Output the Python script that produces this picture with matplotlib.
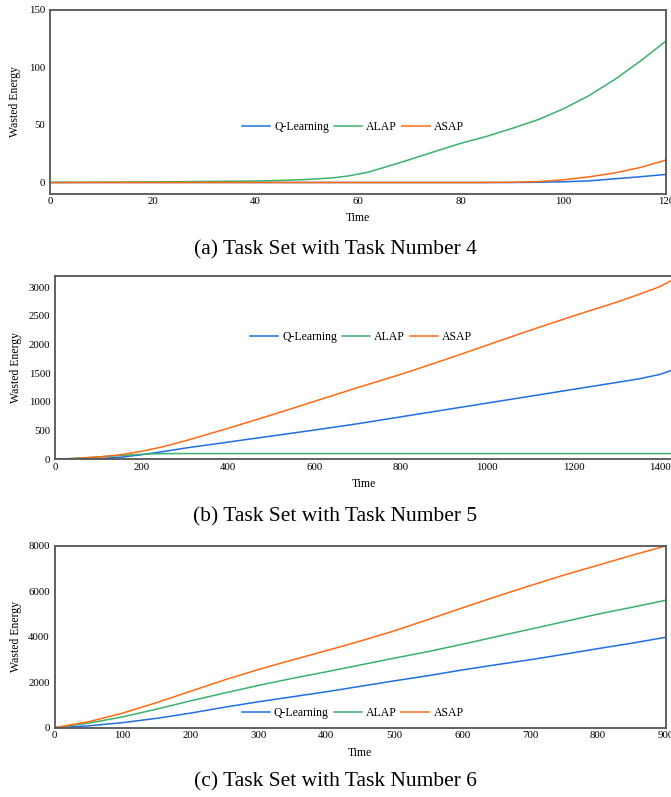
import numpy as np
import matplotlib
matplotlib.use("Agg")
import matplotlib.pyplot as plt

plt.rcParams['font.family'] = ['Liberation Serif', 'DejaVu Serif']

labels = ['Q-Learning', 'ALAP', 'ASAP']
colors = ['#1f6fe0', '#3ab26c', '#ff6a13']

# (a) task number 4
t4 = [0, 10, 20, 30, 40, 45, 50, 55, 58, 62, 66, 70, 75, 80, 85, 90, 95, 100, 105, 110, 115, 120]
q4 = [0, 0, 0, 0, 0, 0, 0, 0, 0, 0, 0, 0, 0, 0, 0, 0, 0.2, 0.6, 1.4, 3.2, 5.0, 7.0]
alap4 = [0, 0.2, 0.5, 0.9, 1.3, 1.8, 2.6, 4.0, 5.6, 9.0, 14.3, 19.8, 27.0, 34.0, 40.0, 47.0,
         54.5, 64.0, 75.5, 89.5, 105.5, 123.0]
asap4 = [0, 0, 0, 0, 0, 0, 0, 0, 0, 0, 0, 0, 0, 0, 0, 0.2, 0.8, 2.3, 4.9, 8.3, 13.0, 19.5]

# (b) task number 5
t5 = [0, 50, 100, 150, 200, 250, 300, 400, 500, 600, 700, 800, 900, 1000, 1100, 1200,
      1300, 1350, 1400, 1430]
q5 = [0, 3, 12, 35, 80, 135, 195, 300, 405, 510, 620, 740, 860, 980, 1100, 1220,
      1340, 1400, 1480, 1560]
alap5 = [0, 20, 42, 65, 88, 99, 100, 100, 100, 100, 100, 100, 100, 100, 100, 100,
         100, 100, 100, 100]
asap5 = [0, 15, 40, 78, 140, 220, 320, 540, 770, 1010, 1250, 1480, 1730, 1990, 2250,
         2500, 2740, 2870, 3010, 3130]

# (c) task number 6
t6 = [0, 50, 100, 150, 200, 250, 300, 350, 400, 450, 500, 550, 600, 650, 700, 750,
      800, 850, 900]
q6 = [0, 80, 220, 410, 640, 900, 1140, 1360, 1580, 1820, 2060, 2290, 2540, 2770,
      2990, 3230, 3480, 3720, 3980]
alap6 = [0, 200, 475, 815, 1180, 1525, 1860, 2170, 2460, 2760, 3060, 3350, 3670,
         4005, 4335, 4665, 5000, 5300, 5610]
asap6 = [0, 260, 640, 1100, 1600, 2100, 2560, 2980, 3390, 3810, 4260, 4760, 5270,
         5770, 6250, 6720, 7150, 7590, 8000]

panels = [
    dict(t=t4, ys=[q4, alap4, asap4], rect=[0.0745, 0.7566, 0.918, 0.2309],
         xlim=(0, 120), ylim=(-10, 150), xt=np.arange(0, 121, 20), yt=[0, 50, 100, 150],
         leg=(0.492, 0.364), ylx=-0.047, xly=-0.098,
         cap='(a) Task Set with Task Number 4', capy=0.6863),
    dict(t=t5, ys=[q5, alap5, asap5], rect=[0.0824, 0.4237, 0.9206, 0.2304],
         xlim=(0, 1430), ylim=(0, 3200), xt=np.arange(0, 1401, 200),
         yt=np.arange(0, 3001, 500),
         leg=(0.495, 0.667), ylx=-0.054, xly=-0.103,
         cap='(b) Task Set with Task Number 5', capy=0.3513),
    dict(t=t6, ys=[q6, alap6, asap6], rect=[0.0815, 0.0870, 0.911, 0.228],
         xlim=(0, 900), ylim=(0, 8000), xt=np.arange(0, 901, 100),
         yt=np.arange(0, 8001, 2000),
         leg=(0.4875, 0.082), ylx=-0.0535, xly=-0.105,
         cap='(c) Task Set with Task Number 6', capy=0.0188),
]

fig = plt.figure(figsize=(6.71, 7.97), dpi=100)

for p in panels:
    ax = fig.add_axes(p['rect'])
    for y, lab, c in zip(p['ys'], labels, colors):
        ax.plot(p['t'], y, color=c, lw=1.1, label=lab)
    ax.set_xlim(*p['xlim'])
    ax.set_ylim(*p['ylim'])
    ax.set_xticks(p['xt'])
    ax.set_yticks(p['yt'])
    ax.tick_params(axis='both', length=0, labelsize=7.8)
    ax.tick_params(axis='x', pad=2.5)
    ax.tick_params(axis='y', pad=3.5)
    for s in ax.spines.values():
        s.set_color('#555555')
        s.set_linewidth(1.3)
    ax.set_xlabel('Time', fontsize=8.5)
    ax.set_ylabel('Wasted Energy', fontsize=8.5)
    ax.xaxis.set_label_coords(0.5, p['xly'])
    ax.yaxis.set_label_coords(p['ylx'], 0.5)
    ax.legend(loc='center', bbox_to_anchor=p['leg'], ncol=3, frameon=False,
              fontsize=8.5, handlelength=2.37, handletextpad=0.34,
              columnspacing=0.42, borderpad=0)
    fig.text(0.5, p['capy'], p['cap'], ha='center', va='center', fontsize=15.5)

fig.savefig('out.png', dpi=100)
